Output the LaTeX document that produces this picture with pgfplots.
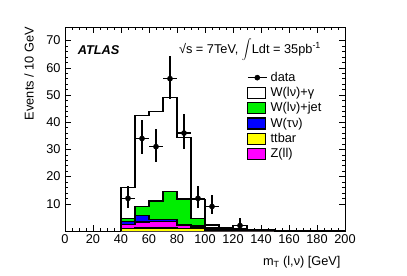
\documentclass[border=0pt]{standalone}
\usepackage{pgfplots}
\pgfplotsset{compat=1.18}
\usepackage{fontspec}
\setmainfont{Liberation Sans}
\definecolor{hgreen}{RGB}{0,238,0}
\definecolor{hblue}{RGB}{0,0,255}
\definecolor{hyellow}{RGB}{255,255,0}
\definecolor{hmag}{RGB}{255,0,255}
\begin{document}
\fontsize{12.8}{15}\selectfont
\begin{tikzpicture}
\path[use as bounding box] (-65bp,-45bp) rectangle (342bp,231bp);
\begin{axis}[
  at={(0,0)}, anchor=south west,
  scale only axis, width=280bp, height=204bp,
  xmin=0, xmax=200, ymin=0, ymax=75,
  xtick={0,20,...,200}, ytick={10,20,...,70},
  minor x tick num=3, minor y tick num=4,
  tick align=inside, major tick length=6bp, minor tick length=3bp,
  xtick pos=both, ytick pos=both,
  every tick/.style={black, line width=0.6bp},
  axis line style={line width=0.8bp},
  /pgf/number format/assume math mode=true,
  tick label style={font=\fontsize{12.8}{15}\selectfont},
  xticklabel style={yshift=1bp},
  xlabel={m\textsubscript{T} (l,ν) [GeV]},
  xlabel style={at={(axis description cs:1,-0.152)}, anchor=east, font=\fontsize{12.8}{15}\selectfont},
  legend style={at={(rel axis cs:0.65,0.782)}, anchor=north west, draw=none, fill=none,
    font=\fontsize{12.8}{15}\selectfont, row sep=3.1bp, inner sep=0pt,
    nodes={inner sep=0.4bp},
    /tikz/every odd column/.append style={column sep=3bp}},
  legend cell align=left,
]
% white total
\addplot[const plot mark left, draw=black, line width=1.2bp, fill=white, forget plot] coordinates {
(40,0)(40,16)(50,42.5)(60,44)(70,49)(80,34.5)(90,11.5)(100,2.2)(110,1.2)(120,2.0)(130,0.6)(140,0.4)(150,0.3)(160,0.25)(170,0.2)(180,0.15)(190,0.1)(200,0.1)(200,0)};
% green
\addplot[const plot mark left, draw=black, line width=1.2bp, fill=hgreen, forget plot] coordinates {
(40,0)(40,4.7)(50,9.0)(60,11.0)(70,14.5)(80,11.8)(90,4.6)(100,1.2)(110,0.8)(120,0.8)(130,0.3)(140,0.2)(150,0.15)(160,0.1)(170,0.1)(180,0.05)(190,0.05)(200,0.05)(200,0)};
% blue
\addplot[const plot mark left, draw=black, line width=1.2bp, fill=hblue, forget plot] coordinates {
(40,0)(40,3.5)(50,5.6)(60,4.2)(70,4.1)(80,2.5)(90,2.0)(100,0.8)(110,0.5)(120,0.5)(130,0.2)(140,0.15)(150,0.1)(160,0.05)(170,0.05)(180,0.03)(190,0.03)(200,0.03)(200,0)};
% magenta
\addplot[const plot mark left, draw=black, line width=1.2bp, fill=hmag, forget plot] coordinates {
(40,0)(40,2.3)(50,3.3)(60,3.5)(70,3.5)(80,2.0)(90,1.5)(100,0.6)(110,0.4)(120,0.4)(130,0.15)(140,0.1)(150,0.05)(160,0.03)(170,0.03)(180,0.02)(190,0.02)(200,0.02)(200,0)};
% yellow
\addplot[const plot mark left, draw=black, line width=1.2bp, fill=hyellow, forget plot] coordinates {
(40,0)(40,1.0)(50,1.1)(60,1.1)(70,1.1)(80,1.0)(90,0.8)(100,0.4)(110,0.3)(120,0.3)(130,0.1)(140,0.05)(150,0.03)(160,0.02)(170,0.02)(180,0.01)(190,0.01)(200,0.01)(200,0)};
% data
\addplot[only marks, mark=*, mark size=2.6bp, black, forget plot,
  error bars/.cd, x dir=both, x explicit, y dir=both, y explicit,
  error bar style={line width=1.2bp}, error mark=none]
  table[x=x, y=y, x error=ex, y error plus=ep, y error minus=em] {
x y ex ep em
45 12 5 4.5 3.4
55 34 5 6.9 5.8
65 31 5 6.6 5.5
75 56 5 8.4 7.5
85 36 5 7.0 6.0
95 12 5 4.5 3.4
105 9 5 4.1 2.9
125 2 5 2.6 1.3
};
\addlegendimage{legend image code/.code={
  \draw[black, line width=1bp] (0bp,0bp) -- (19bp,0bp);
  \fill[black] (9.5bp,0bp) circle (2.6bp);}}
\addlegendentry{data}
\addlegendimage{legend image code/.code={\draw[black, line width=1.2bp, fill=white] (0bp,-5.5bp) rectangle (18bp,5.5bp);}}
\addlegendentry{W(lν)+γ}
\addlegendimage{legend image code/.code={\draw[black, line width=1.2bp, fill=hgreen] (0bp,-5.5bp) rectangle (18bp,5.5bp);}}
\addlegendentry{W(lν)+jet}
\addlegendimage{legend image code/.code={\draw[black, line width=1.2bp, fill=hblue] (0bp,-5.5bp) rectangle (18bp,5.5bp);}}
\addlegendentry{W(τν)}
\addlegendimage{legend image code/.code={\draw[black, line width=1.2bp, fill=hyellow] (0bp,-5.5bp) rectangle (18bp,5.5bp);}}
\addlegendentry{ttbar}
\addlegendimage{legend image code/.code={\draw[black, line width=1.2bp, fill=hmag] (0bp,-5.5bp) rectangle (18bp,5.5bp);}}
\addlegendentry{Z(ll)}
\node[anchor=west, font=\fontsize{12.8}{15}\selectfont\bfseries\itshape] at (rel axis cs:0.03,0.887) {ATLAS};
\node[anchor=east, font=\fontsize{12.8}{15}\selectfont] at (rel axis cs:0.93,0.887) {√s = 7TeV, $\displaystyle\int$Ldt = 35pb\textsuperscript{-1}};
\end{axis}
\node[rotate=90, anchor=east, inner sep=0pt, font=\fontsize{12.8}{15}\selectfont] at (-36bp,204bp) {Events / 10 GeV};
\end{tikzpicture}
\end{document}
